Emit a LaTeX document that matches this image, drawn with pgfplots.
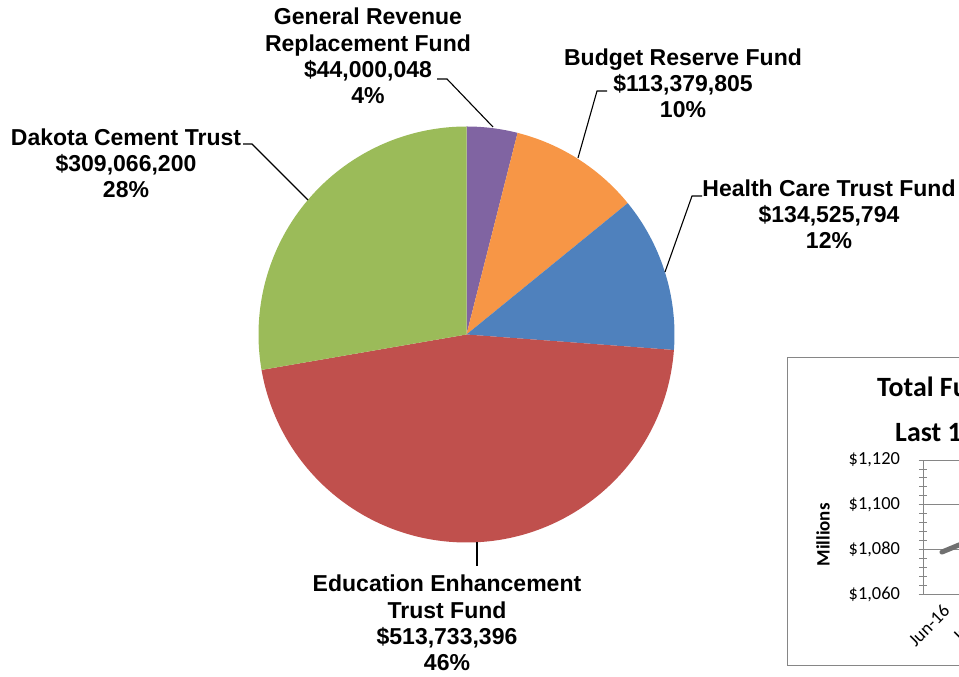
\documentclass[border=0pt]{standalone}
\usepackage{pgfplots}
\usepackage{pgfplotstable}
\pgfplotsset{compat=1.18}
\usepackage{fontspec}
\setmainfont{Liberation Sans}
\newfontfamily\calibri{Carlito}

\definecolor{slice0}{HTML}{8064A2}
\definecolor{slice1}{HTML}{F79646}
\definecolor{slice2}{HTML}{4F81BD}
\definecolor{slice3}{HTML}{C0504D}
\definecolor{slice4}{HTML}{9BBB59}
\definecolor{insetgray}{HTML}{868686}
\definecolor{linegray}{HTML}{707070}

% fund balances, millions of dollars, clockwise from 12 o'clock
\pgfplotstableread{
fund value
grrf 44.000048
brf  113.379805
hctf 134.525794
eetf 513.733396
dct  309.066200
}\piedata

% total fund balance, last months (only the start shows)
\pgfplotstableread{
month total
0  1078.8
1  1086.2
2  1090.0
}\totaldata

\begin{document}
\begin{tikzpicture}
\useasboundingbox (0,0) rectangle (959bp,677bp);
\clip (0,0) rectangle (959bp,677bp);
\pgfmathsetmacro\pietotal{0}
\pgfplotsforeachungrouped \i in {0,...,4}{%
  \pgfplotstablegetelem{\i}{value}\of\piedata
  \pgfmathsetmacro\pietotal{\pietotal+\pgfplotsretval}%
}
\pgfmathsetmacro\pieangle{90}
\pgfplotsforeachungrouped \i in {0,...,4}{%
  \pgfplotstablegetelem{\i}{value}\of\piedata
  \expandafter\xdef\csname piestart\i\endcsname{\pieangle}%
  \pgfmathsetmacro\pieangle{\pieangle-\pgfplotsretval/\pietotal*360}%
  \expandafter\xdef\csname pieend\i\endcsname{\pieangle}%
}

\begin{axis}[
    at={(0,0)}, anchor=south west,
    scale only axis,
    width=959bp, height=677bp,
    xmin=0, xmax=959,
    ymin=-677, ymax=0,
    hide axis,
    clip=false,
]
\pgfplotsinvokeforeach{0,...,4}{
  \fill[slice#1] (axis cs:466.5,-334.5) -- ++(\csname piestart#1\endcsname:208bp)
    arc[start angle=\csname piestart#1\endcsname, end angle=\csname pieend#1\endcsname, radius=208bp] -- cycle;
}

% leader lines
\draw[black, line width=1.1pt] (axis cs:437,-79) -- (axis cs:447,-79) -- (axis cs:493,-127);
\draw[black, line width=1.1pt] (axis cs:607,-91) -- (axis cs:597,-91) -- (axis cs:578,-158);
\draw[black, line width=1.1pt] (axis cs:702,-196) -- (axis cs:692,-196) -- (axis cs:665,-272);
\draw[black, line width=1.1pt] (axis cs:243,-144) -- (axis cs:252,-144) -- (axis cs:308,-200);
\draw[black, line width=1.1pt] (axis cs:477,-542) -- (axis cs:477,-566);

\tikzset{lbl/.style={align=center, inner sep=0pt, font=\bfseries\fontsize{23.1}{26.3}\selectfont}}
\node[lbl] at (axis cs:368,-56) {General Revenue\\Replacement Fund\\\$44,000,048\\4\%};
\node[lbl] at (axis cs:683,-83) {Budget Reserve Fund\\\$113,379,805\\10\%};
\node[lbl] at (axis cs:829,-214) {Health Care Trust Fund\\\$134,525,794\\12\%};
\node[lbl] at (axis cs:126,-163) {Dakota Cement Trust\\\$309,066,200\\28\%};
\node[lbl] at (axis cs:447,-623) {Education Enhancement\\Trust Fund\\\$513,733,396\\46\%};

% inset frame and title
\draw[insetgray, line width=0.8pt] (axis cs:1000,-357.5) -- (axis cs:787.5,-357.5) -- (axis cs:787.5,-665.5) -- (axis cs:1000,-665.5);
\node[anchor=base west, inner sep=0pt, font=\calibri\bfseries\fontsize{28}{30}\selectfont] at (axis cs:877,-397) {Total Fund Balance};
\node[anchor=base west, inner sep=0pt, font=\calibri\bfseries\fontsize{28}{30}\selectfont] at (axis cs:895,-442) {Last 12 Months};
\node[rotate=90, inner sep=0pt, font=\calibri\bfseries\fontsize{19}{21}\selectfont] at (axis cs:823,-535) {Millions};
\end{axis}

\begin{axis}[
    at={(923bp,83bp)}, anchor=south west,
    scale only axis,
    width=79bp, height=134bp,
    xmin=-0.475, xmax=1.5,
    ymin=1060, ymax=1120,
    ytick={1060,1080,1100,1120},
    yticklabels={{\$1,060},{\$1,080},{\$1,100},{\$1,120}},
    minor y tick num=4,
    xtick=data,
    xticklabels={Jun-16,Jul-16,Aug-16},
    x tick label style={rotate=45, anchor=north east},
    ticklabel style={font=\calibri\fontsize{18.5}{20}\selectfont, text=black},
    yticklabel style={xshift=-15bp},
    axis x line=bottom, axis y line=left,
    axis line style={insetgray, line width=0.8pt, -},
    ymajorgrids=true,
    grid style={insetgray, line width=0.8pt},
    tick style={insetgray, line width=0.8pt},
    tick align=center,
    major tick length=9bp, minor tick length=8bp,
    xtick style={draw=none},
]
\addplot[linegray, line width=5pt, line cap=round] table[x=month, y=total] {\totaldata};
\end{axis}
\end{tikzpicture}
\end{document}
